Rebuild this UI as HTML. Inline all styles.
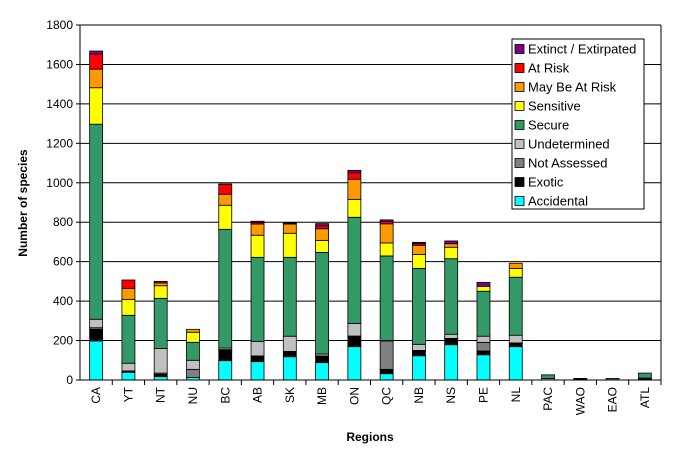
<!DOCTYPE html>
<html><head><meta charset="utf-8"><style>
body{margin:0;background:#fff;}
svg{display:block;font-family:"Liberation Sans",Arial,sans-serif;}
</style></head><body>
<svg id="chart" width="674" height="449">
<g id="grid"></g><g id="bars"></g><g id="axes"></g><g id="legend"></g>
</svg>
<script>
const categories=["CA","YT","NT","NU","BC","AB","SK","MB","ON","QC","NB","NS","PE","NL","PAC","WAO","EAO","ATL"];
const seriesNames=["Accidental","Exotic","Not Assessed","Undetermined","Secure","Sensitive","May Be At Risk","At Risk","Extinct / Extirpated"];
const accidental=[198,39,17,13,98,93,118,88,169,32,123,179,128,169,0,0,0,0];
const exotic=[59,7,12,0,54,29,27,30,54,22,27,32,19,19,0,8,0,10];
const notAssessed=[8,0,6,41,2,0,0,4,0,144,0,0,44,0,0,0,0,0];
const undetermined=[43,39,125,46,8,74,77,10,64,2,31,21,31,39,8,0,0,0];
const secure=[989,243,254,91,602,426,400,515,538,429,385,383,228,294,18,0,8,25];
const sensitive=[185,81,64,51,122,112,122,61,91,66,71,58,25,45,0,0,0,0];
const mayBeAtRisk=[94,56,14,15,56,57,47,59,102,97,46,18,0,26,0,0,0,0];
const atRisk=[76,42,8,0,50,7,4,14,33,11,8,0,0,0,0,0,0,0];
const extinct=[16,0,0,0,2,7,4,12,12,9,7,14,20,0,0,0,0,0];
const yTicks=[0,200,400,600,800,1000,1200,1400,1600,1800];
const series=[accidental,exotic,notAssessed,undetermined,secure,sensitive,mayBeAtRisk,atRisk,extinct];
const colors=["#00ffff","#000000","#808080","#c0c0c0","#339966","#ffff00","#ff9900","#ff0000","#800080"];
const NS="http://www.w3.org/2000/svg";
const X0=80,X1=661,Y0=380,Y1=25,YMAX=1800;
const y=v=>Y0-(v/YMAX)*(Y0-Y1);
const step=(X1-X0)/categories.length;
const xc=i=>X0+step*(i+0.5);
function mk(tag,attrs,parent){const e=document.createElementNS(NS,tag);for(const k in attrs)e.setAttribute(k,attrs[k]);parent.appendChild(e);return e;}
const grid=document.getElementById('grid'),bars=document.getElementById('bars'),axes=document.getElementById('axes'),leg=document.getElementById('legend');
yTicks.forEach(t=>{
 if(t>0){const l=mk('line',{x1:X0,x2:X1,y1:y(t),y2:y(t),stroke:'#000','stroke-width':1},grid);
 
 }
 const tl=mk('line',{x1:X0-4,x2:X0,y1:y(t),y2:y(t),stroke:'#000'},axes);
 
 
 const tx=mk('text',{x:X0-7,y:y(t)+4,'text-anchor':'end','font-size':12},axes);tx.textContent=t;
 
 
});
categories.forEach((c,i)=>{
 let cum=0;
 series.forEach((s,k)=>{
  const v=s[i];if(v<=0)return;
  const r=mk('rect',{x:xc(i)-6.5,y:y(cum+v),width:13,height:y(cum)-y(cum+v),fill:colors[k],stroke:'#000','stroke-width':0.8},bars);
  
  
  cum+=v;
 });
 const tk=mk('line',{x1:X0+step*(i+1),x2:X0+step*(i+1),y1:Y0,y2:Y0+5,stroke:'#000'},axes);
 
 
 const tx=mk('text',{x:0,y:0,'text-anchor':'end','font-size':12,transform:`translate(${xc(i)+4},${Y0+7}) rotate(-90)`},axes);tx.textContent=c;
 
 
});
const ax=mk('path',{d:`M${X0},${Y1}V${Y0}H${X1}V${Y1}`,fill:'none',stroke:'#000','stroke-width':1},axes);


const yt=mk('text',{x:0,y:0,'text-anchor':'middle','font-size':12,'font-weight':'bold',transform:'translate(27,203) rotate(-90)'},axes);yt.textContent='Number of species';


const xt=mk('text',{x:370,y:441,'text-anchor':'middle','font-size':12,'font-weight':'bold'},axes);xt.textContent='Regions';


const lb=mk('rect',{x:512,y:39,width:132,height:170,fill:'#fff',stroke:'#000'},leg);


for(let k=8;k>=0;k--){
 const row=8-k,cy=49+row*19;
 const g=mk('g',{},leg);
 
 
 mk('rect',{x:515,y:cy-4.5,width:9,height:9,fill:colors[k],stroke:'#000','stroke-width':0.8},g);
 const t=mk('text',{x:528,y:cy+4.5,'font-size':13},g);t.textContent=seriesNames[k];
}
</script>
</body></html>
